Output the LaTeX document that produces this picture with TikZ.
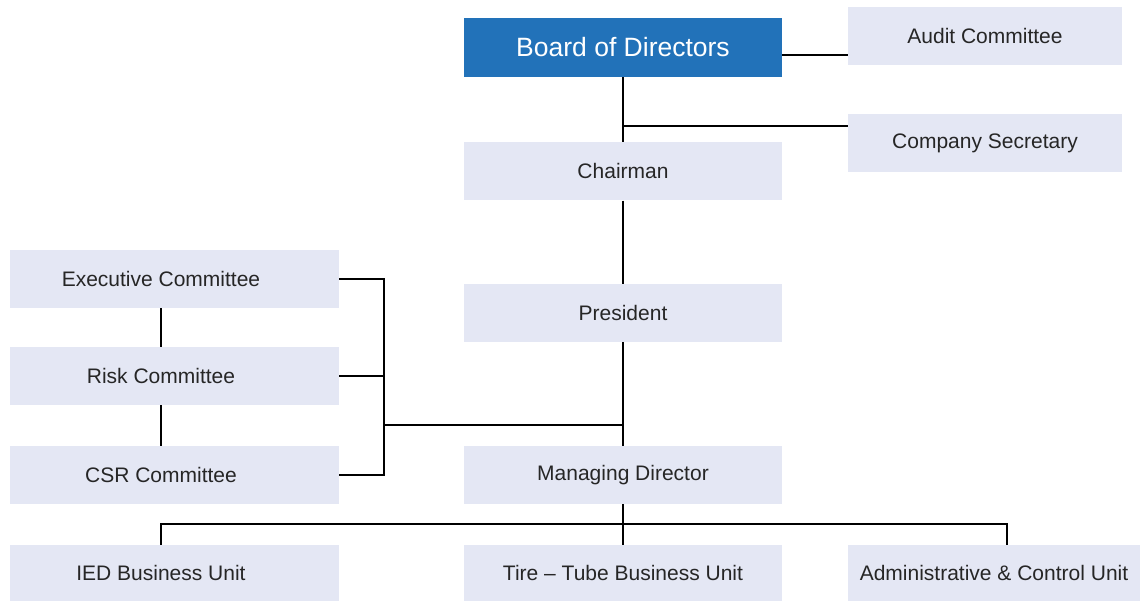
\documentclass[tikz,border=0pt]{standalone}
\usepackage{fontspec}
\setmainfont{Liberation Sans}
\usetikzlibrary{positioning}
\definecolor{boxfill}{HTML}{E4E7F4}
\definecolor{boardblue}{HTML}{2272B9}
\tikzset{
  unitbox/.style = {rectangle, fill=boxfill, inner sep=0pt, minimum height=58pt, font=\fontsize{21}{24}\selectfont, text=black!85},
  midbox/.style = {unitbox, minimum width=318pt},
  sidebox/.style = {unitbox, minimum width=274pt},
  leftbox/.style = {unitbox, minimum width=329pt, execute at end node={\hspace*{27pt}}},
  link/.style = {line width=1.1pt, black},
}
\begin{document}
\begin{tikzpicture}[x=1pt, y=1pt]
\useasboundingbox (0,0) rectangle (1140,601);

% top: board and its committees
\node[midbox, fill=boardblue, text=white, minimum height=59pt, font=\fontsize{26.5}{30}\selectfont] (board) at (623,553.5) {Board of Directors};
\node[sidebox] (audit) at (985,565) {Audit Committee};
\node[sidebox] (secretary) at (985,458) {Company Secretary};

% middle column
\node[midbox] (chairman) at (623,429.5) {Chairman};
\node[midbox] (president) at (623,288) {President};
\node[midbox] (md) at (623,126) {Managing Director};

% left column: committees
\node[leftbox] (exec) at (174.5,322) {Executive Committee};
\node[leftbox] (risk) at (174.5,225) {Risk Committee};
\node[leftbox] (csr) at (174.5,126) {CSR Committee};

% bottom row: units
\node[leftbox, minimum height=56pt] (ied) at (174.5,28) {IED Business Unit};
\node[midbox, minimum height=56pt] (tire) at (623,28) {Tire -- Tube Business Unit};
\node[unitbox, minimum width=292pt, minimum height=56pt] (admin) at (994,28) {Administrative \& Control Unit};

% junction points
\coordinate (bda) at ([yshift=-7.5pt]board.east);
\coordinate (sec) at (623,475);
\coordinate (brk) at (384,176);
\coordinate (bus) at (623,77);

% connectors
\draw[link] (bda) -- (bda -| audit.west);
\draw[link] (board.south) -- (chairman.north);
\draw[link] (sec) -- (sec -| secretary.west);
\draw[link] (chairman.south) -- (president.north);
\draw[link] (president.south) -- (md.north);
\draw[link] (exec.east) -- (exec.east -| brk) -- (csr.east -| brk) -- (csr.east);
\draw[link] (risk.east) -- (risk.east -| brk);
\draw[link] (brk) -- (brk -| md.north);
\draw[link] ([xshift=-13.5pt]exec.south) -- ([xshift=-13.5pt]risk.north);
\draw[link] ([xshift=-13.5pt]risk.south) -- ([xshift=-13.5pt]csr.north);
\draw[link] (md.south) -- (tire.north);
\draw[link] ([xshift=-13.5pt]ied.north) |- (bus) -| ([xshift=13pt]admin.north);

\end{tikzpicture}
\end{document}
